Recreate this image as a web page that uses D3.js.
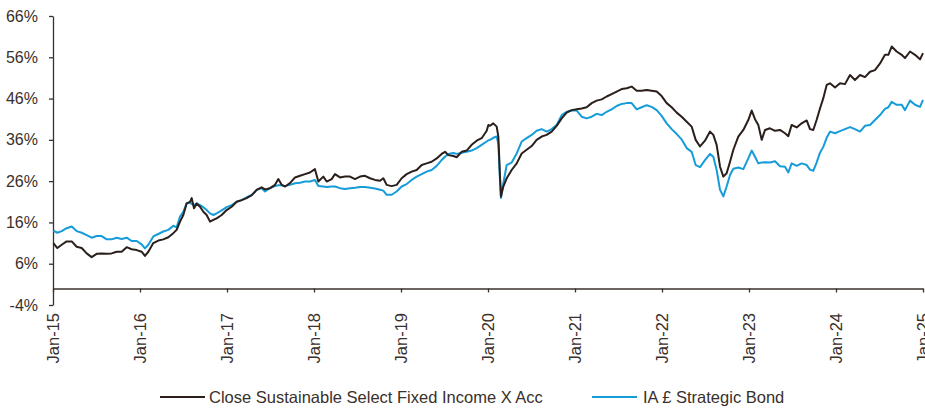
<!DOCTYPE html>
<html>
<head>
<meta charset="utf-8">
<script src="https://cdn.jsdelivr.net/npm/d3@7/dist/d3.min.js"></script>
<style>
  html, body { margin: 0; padding: 0; background: #ffffff; }
  svg { display: block; }
  text { font-family: "Liberation Sans", Arial, Helvetica, sans-serif; fill: #3a302b; }
</style>
</head>
<body>
<svg id="chart" width="925" height="408"></svg>
<script>
// ---- DATA ----
// dates as decimal years
const dates = [
  2015.004, 2015.050, 2015.100, 2015.157, 2015.215, 2015.272, 2015.330, 2015.387, 2015.444, 2015.502,
  2015.559, 2015.617, 2015.674, 2015.732, 2015.789, 2015.847, 2015.904, 2015.962, 2016.019, 2016.057,
  2016.096, 2016.153, 2016.211, 2016.268, 2016.326, 2016.383, 2016.421, 2016.460, 2016.498, 2016.536,
  2016.575, 2016.594, 2016.621, 2016.651, 2016.690, 2016.728, 2016.766, 2016.805, 2016.843, 2016.881,
  2016.939, 2016.996, 2017.054, 2017.111, 2017.169, 2017.226, 2017.284, 2017.341, 2017.398, 2017.437,
  2017.494,
  2017.552, 2017.590, 2017.628, 2017.667, 2017.724, 2017.782, 2017.839, 2017.897, 2017.954, 2018.011,
  2018.050, 2018.107, 2018.146, 2018.203, 2018.241, 2018.299, 2018.356, 2018.414, 2018.471, 2018.529,
  2018.586, 2018.644, 2018.701, 2018.759, 2018.797, 2018.835, 2018.893, 2018.950, 2019.008, 2019.065,
  2019.123, 2019.180, 2019.238, 2019.295, 2019.352, 2019.410, 2019.467, 2019.506, 2019.544, 2019.602,
  2019.640, 2019.697, 2019.755, 2019.812, 2019.870, 2019.927, 2019.985, 2020.004,
  2020.023, 2020.061, 2020.100, 2020.119, 2020.138, 2020.149, 2020.176, 2020.215, 2020.272, 2020.330,
  2020.387, 2020.444, 2020.502, 2020.559, 2020.617, 2020.674, 2020.732, 2020.789, 2020.847, 2020.904,
  2020.962, 2021.019, 2021.077, 2021.134, 2021.192, 2021.249, 2021.307, 2021.364, 2021.421, 2021.479,
  2021.536, 2021.594, 2021.651, 2021.709, 2021.766, 2021.824, 2021.881, 2021.939, 2021.996, 2022.054,
  2022.111, 2022.169, 2022.226, 2022.284, 2022.341, 2022.387, 2022.437, 2022.494,
  2022.552, 2022.590, 2022.628, 2022.667, 2022.705, 2022.743, 2022.782, 2022.820, 2022.877, 2022.935,
  2022.992, 2023.031, 2023.069, 2023.107, 2023.146, 2023.184, 2023.241, 2023.299, 2023.356, 2023.414,
  2023.452, 2023.490, 2023.548, 2023.605, 2023.663, 2023.701, 2023.739, 2023.777, 2023.816, 2023.854,
  2023.893, 2023.931, 2023.989, 2024.046, 2024.103, 2024.161, 2024.218, 2024.276, 2024.333, 2024.391,
  2024.448, 2024.506, 2024.563, 2024.602, 2024.640, 2024.697, 2024.755, 2024.793, 2024.851, 2024.908,
  2024.966, 2025.000
];

// Close Sustainable Select Fixed Income X Acc (cumulative %)
const closeFund = [
  11.0, 9.8, 10.6, 11.4, 11.4, 10.1, 9.8, 8.5, 7.6, 8.4,
  8.5, 8.4, 8.5, 8.9, 8.9, 10.0, 9.5, 9.3, 8.9, 7.9,
  8.9, 11.0, 11.6, 11.9, 12.4, 13.4, 14.2, 16.2, 17.8, 20.6,
  21.0, 21.9, 19.4, 20.6, 19.8, 18.6, 17.8, 16.2, 16.6, 17.0,
  17.8, 19.0, 19.8, 21.0, 21.4, 21.9, 22.6, 23.9, 24.5, 24.0,
  24.3,
  25.1, 26.5, 25.1, 24.7, 25.5, 26.9, 27.3, 27.7, 28.1, 28.9,
  25.9, 27.1, 25.9, 26.5, 27.7, 26.9, 27.1, 27.1, 26.5, 27.1,
  27.3, 26.7, 26.3, 26.1, 26.7, 25.1, 24.8, 25.1, 26.7, 27.7,
  28.3, 28.7, 29.9, 30.3, 30.7, 31.5, 32.6, 33.1, 32.3, 32.1,
  31.8, 33.1, 33.4, 34.8, 35.8, 36.4, 38.2, 39.6,
  39.4, 40.0, 39.2, 36.8, 27.1, 22.3, 24.7, 26.7, 28.7, 30.3,
  32.7, 33.6, 34.5, 36.0, 36.8, 37.2, 38.0, 39.4, 41.2, 42.6,
  43.2, 43.4, 43.6, 43.9, 44.9, 45.5, 45.8, 46.5, 47.1, 47.7,
  48.3, 48.5, 48.9, 47.9, 47.9, 48.1, 47.9, 47.7, 46.6, 44.9,
  43.9, 42.6, 41.6, 40.4, 39.2, 36.0, 34.4, 35.8,
  38.0, 37.2, 34.8, 29.5, 27.1, 27.9, 30.7, 33.6, 36.8, 38.4,
  40.8, 43.1, 41.0, 39.6, 36.0, 38.4, 38.8, 38.2, 38.4, 37.6,
  36.9, 39.6, 39.0, 40.0, 40.7, 38.6, 38.4, 40.8, 43.6, 46.1,
  49.3, 49.7, 48.7, 49.7, 49.5, 51.7, 50.5, 51.7, 51.2, 52.5,
  52.9, 54.5, 56.6, 56.6, 58.6, 57.4, 56.6, 55.8, 57.4, 56.6,
  55.5, 57.0
];

// IA £ Strategic Bond (cumulative %)
const iaBond = [
  14.0, 13.5, 13.9, 14.6, 15.0, 13.9, 13.5, 12.9, 12.3, 12.7,
  12.7, 11.9, 11.9, 12.3, 12.0, 12.3, 11.5, 11.5, 10.7, 9.7,
  10.6, 12.6, 13.2, 13.8, 14.2, 15.2, 14.8, 17.4, 18.6, 20.6,
  20.8, 20.5, 20.2, 20.6, 20.2, 19.7, 19.0, 18.2, 17.8, 18.2,
  18.9, 19.7, 20.2, 21.0, 21.4, 22.1, 22.6, 23.9, 24.3, 23.5,
  24.3,
  24.8, 25.0, 25.0, 24.8, 25.1, 25.5, 25.6, 25.9, 25.9, 26.3,
  24.8, 24.7, 24.6, 24.7, 24.7, 24.3, 24.1, 24.3, 24.4, 24.6,
  24.6, 24.4, 24.2, 23.9, 23.7, 22.7, 22.7, 23.5, 24.7, 25.3,
  26.3, 27.1, 27.7, 28.3, 28.7, 29.7, 31.1, 31.9, 32.6, 32.8,
  32.6, 32.9, 33.1, 33.4, 34.0, 34.8, 35.6, 35.9,
  36.0, 36.5, 36.8, 35.0, 26.3, 21.9, 25.5, 29.9, 30.5, 32.7,
  35.6, 36.4, 37.2, 38.2, 38.6, 38.0, 38.6, 39.6, 42.0, 42.8,
  43.1, 43.1, 41.6, 41.2, 41.6, 42.3, 42.0, 42.8, 43.4, 44.2,
  44.7, 44.9, 44.9, 43.4, 43.9, 44.4, 44.0, 43.2, 41.8, 40.0,
  38.6, 37.4, 36.1, 34.0, 33.1, 29.9, 29.4, 31.1,
  32.6, 31.9, 28.7, 23.9, 22.3, 24.7, 27.5, 29.0, 29.3, 28.9,
  31.5, 33.4, 31.9, 30.3, 30.5, 30.6, 30.5, 30.8, 29.6, 29.5,
  28.1, 30.3, 29.7, 30.3, 29.9, 28.8, 28.5, 30.5, 32.9, 34.3,
  36.5, 38.0, 37.6, 38.1, 38.6, 39.1, 38.6, 38.0, 39.4, 39.6,
  40.8, 42.0, 43.5, 43.9, 45.2, 44.5, 44.5, 43.2, 45.5, 44.5,
  44.0, 45.7
];

const seriesNames = ["Close Sustainable Select Fixed Income X Acc", "IA £ Strategic Bond"];
const seriesColors = ["#2a1f1b", "#159cd9"];
const yTicks = [-4, 6, 16, 26, 36, 46, 56, 66];
const xTickYears = [2015, 2016, 2017, 2018, 2019, 2020, 2021, 2022, 2023, 2024, 2025];
const xTickLabels = ["Jan-15", "Jan-16", "Jan-17", "Jan-18", "Jan-19", "Jan-20", "Jan-21", "Jan-22", "Jan-23", "Jan-24", "Jan-25"];

// ---- CHART ----
(function () {
  const svg = d3.select("#chart");
  const plotLeft = 53, plotRight = 923, plotTop = 16, plotBottom = 305;
  const axisColor = "#3b302b";

  const x = d3.scaleLinear().domain([2015, 2025]).range([plotLeft, plotRight]);
  const y = d3.scaleLinear().domain([-4, 66]).range([plotBottom, plotTop]);

  // Y axis
  const yAxis = svg.append("g")
    .attr("transform", `translate(${plotLeft},0)`)
    .call(d3.axisLeft(y).tickValues(yTicks).tickSize(4).tickSizeOuter(0).tickPadding(11).tickFormat(d => d + "%"));
  yAxis.select(".domain").attr("stroke", axisColor).attr("stroke-width", 1.3);
  yAxis.selectAll(".tick line").attr("stroke", axisColor).attr("stroke-width", 1.3);
  yAxis.selectAll(".tick text").style("font-size", "16px").attr("fill", "#3a302b");

  // X axis at 0%
  const xAxis = svg.append("g")
    .attr("transform", `translate(0,${y(0)})`)
    .call(d3.axisBottom(x).tickValues(xTickYears).tickSize(4).tickSizeOuter(0)
      .tickFormat((d, i) => xTickLabels[i]));
  xAxis.select(".domain").attr("stroke", axisColor).attr("stroke-width", 1.3);
  xAxis.selectAll(".tick line").attr("stroke", axisColor).attr("stroke-width", 1.3);
  xAxis.selectAll(".tick text")
    .style("font-size", "16.5px")
    .attr("fill", "#3a302b")
    .attr("text-anchor", "end")
    .attr("transform", "rotate(-90)")
    .attr("x", -(313 - y(0)))
    .attr("y", 0)
    .attr("dy", "0.36em");

  // Lines (blue first, black on top)
  const series = [closeFund, iaBond];
  const line = d3.line().x((d, i) => x(dates[i])).y(d => y(d));
  [1, 0].forEach(k => {
    svg.append("path")
      .datum(series[k])
      .attr("fill", "none")
      .attr("stroke", seriesColors[k])
      .attr("stroke-width", 2)
      .attr("stroke-linejoin", "round")
      .attr("d", line);
  });

  // Legend
  const legend = svg.append("g");
  const legendItems = [
    { x0: 160, x1: 205, tx: 209 },
    { x0: 592, x1: 637, tx: 643 }
  ];
  legendItems.forEach((it, k) => {
    legend.append("line")
      .attr("x1", it.x0).attr("x2", it.x1)
      .attr("y1", 397).attr("y2", 397)
      .attr("stroke", seriesColors[k]).attr("stroke-width", 1.8);
    legend.append("text")
      .attr("x", it.tx).attr("y", 397).attr("dy", "0.35em")
      .style("font-size", "16.5px")
      .text(seriesNames[k]);
  });
})();
</script>
</body>
</html>
